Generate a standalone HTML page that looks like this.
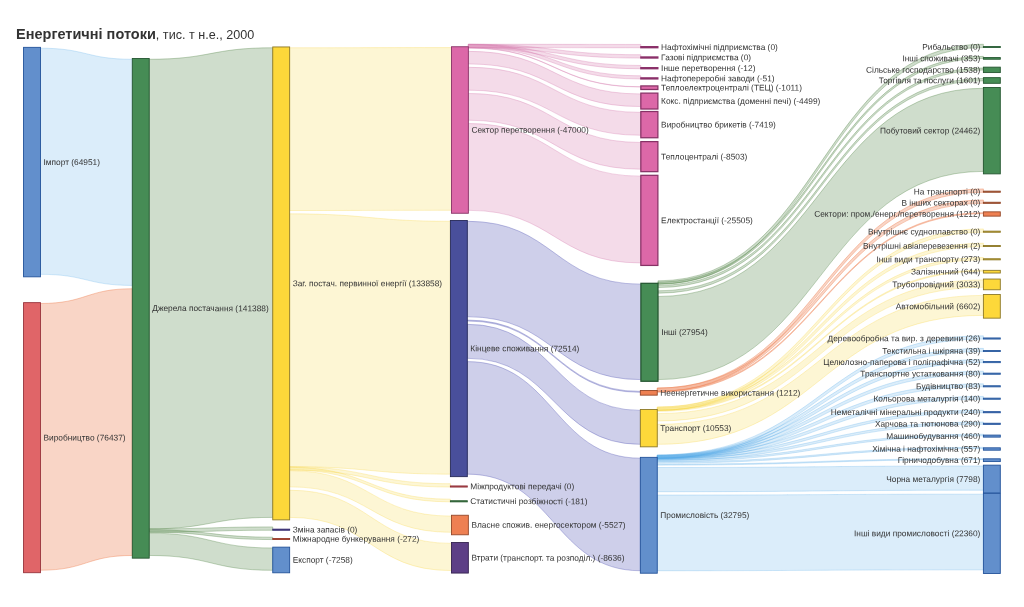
<!DOCTYPE html>
<html><head><meta charset="utf-8"><title>Sankey</title>
<style>html,body{margin:0;padding:0;background:#fff}#w{width:1024px;height:607px;transform:translateZ(0);overflow:hidden}svg{display:block;font-family:"Liberation Sans",sans-serif;will-change:transform}</style></head>
<body>
<div id="w"><svg width="1024" height="607" viewBox="0 0 1024 607">
<rect width="1024" height="607" fill="#fff"/>
<text x="16" y="38.8" transform="rotate(0.02 16 38.8)" fill="#333" font-size="14.52" font-weight="bold">Енергетичні потоки<tspan font-weight="normal" font-size="12.6">, тис. т н.е., 2000</tspan></text>
<g stroke-width="0.83">
<path d="M40.45,48.18C86.38,48.18 86.38,59.28 132.3,59.28L132.3,285.43C86.38,285.43 86.38,274.33 40.45,274.33Z" fill="#4da6e8" stroke="#4da6e8" fill-opacity="0.2" stroke-opacity="0.3"/>
<path d="M40.45,303.48C86.38,303.48 86.38,288.75 132.3,288.75L132.3,555.48C86.38,555.48 86.38,570.21 40.45,570.21Z" fill="#ee8052" stroke="#ee8052" fill-opacity="0.33" stroke-opacity="0.495"/>
<path d="M149.2,59.28C210.97,59.28 210.97,47.78 272.75,47.78L272.75,517.38C210.97,517.38 210.97,528.88 149.2,528.88Z" fill="#4d8142" stroke="#4d8142" fill-opacity="0.27" stroke-opacity="0.405"/>
<path d="M149.2,532.2C210.97,532.2 210.97,530.25 272.75,530.25L272.75,526.93C210.97,526.93 210.97,528.88 149.2,528.88Z" fill="#4d8142" stroke="#4d8142" fill-opacity="0.27" stroke-opacity="0.405"/>
<path d="M149.2,532.2C210.97,532.2 210.97,539.55 272.75,539.55L272.75,537.19C210.97,537.19 210.97,529.84 149.2,529.84Z" fill="#4d8142" stroke="#4d8142" fill-opacity="0.27" stroke-opacity="0.405"/>
<path d="M149.2,533.16C210.97,533.16 210.97,547.98 272.75,547.98L272.75,570.3C210.97,570.3 210.97,555.48 149.2,555.48Z" fill="#4d8142" stroke="#4d8142" fill-opacity="0.27" stroke-opacity="0.405"/>
<path d="M289.65,47.78C370.55,47.78 370.55,47.58 451.45,47.58L451.45,210.31C370.55,210.31 370.55,210.51 289.65,210.51Z" fill="#f6d43a" stroke="#f6d43a" fill-opacity="0.22" stroke-opacity="0.33"/>
<path d="M289.65,213.83C370.02,213.83 370.02,221.28 450.4,221.28L450.4,474.15C370.02,474.15 370.02,466.7 289.65,466.7Z" fill="#f6d43a" stroke="#f6d43a" fill-opacity="0.22" stroke-opacity="0.33"/>
<path d="M289.65,470.02C370.02,470.02 370.02,487.05 450.4,487.05L450.4,483.73C370.02,483.73 370.02,466.7 289.65,466.7Z" fill="#f6d43a" stroke="#f6d43a" fill-opacity="0.22" stroke-opacity="0.33"/>
<path d="M289.65,470.02C370.02,470.02 370.02,501.85 450.4,501.85L450.4,499.17C370.02,499.17 370.02,467.34 289.65,467.34Z" fill="#f6d43a" stroke="#f6d43a" fill-opacity="0.22" stroke-opacity="0.33"/>
<path d="M289.65,470.66C370.55,470.66 370.55,516.08 451.45,516.08L451.45,532.29C370.55,532.29 370.55,486.87 289.65,486.87Z" fill="#f6d43a" stroke="#f6d43a" fill-opacity="0.22" stroke-opacity="0.33"/>
<path d="M289.65,490.19C370.55,490.19 370.55,543.38 451.45,543.38L451.45,570.57C370.55,570.57 370.55,517.38 289.65,517.38Z" fill="#f6d43a" stroke="#f6d43a" fill-opacity="0.22" stroke-opacity="0.33"/>
<path d="M468.35,47.58C554.59,47.58 554.59,47.75 640.83,47.75L640.83,44.43C554.59,44.43 554.59,44.26 468.35,44.26Z" fill="#d67aae" stroke="#d67aae" fill-opacity="0.27" stroke-opacity="0.405"/>
<path d="M468.35,47.58C554.59,47.58 554.59,58.05 640.83,58.05L640.83,54.73C554.59,54.73 554.59,44.26 468.35,44.26Z" fill="#d67aae" stroke="#d67aae" fill-opacity="0.27" stroke-opacity="0.405"/>
<path d="M468.35,47.58C554.59,47.58 554.59,68.75 640.83,68.75L640.83,65.47C554.59,65.47 554.59,44.3 468.35,44.3Z" fill="#d67aae" stroke="#d67aae" fill-opacity="0.27" stroke-opacity="0.405"/>
<path d="M468.35,47.62C554.59,47.62 554.59,78.95 640.83,78.95L640.83,75.81C554.59,75.81 554.59,44.48 468.35,44.48Z" fill="#d67aae" stroke="#d67aae" fill-opacity="0.27" stroke-opacity="0.405"/>
<path d="M468.35,47.8C554.59,47.8 554.59,86.75 640.83,86.75L640.83,87.01C554.59,87.01 554.59,48.05 468.35,48.05Z" fill="#d67aae" stroke="#d67aae" fill-opacity="0.27" stroke-opacity="0.405"/>
<path d="M468.35,51.37C554.59,51.37 554.59,93.95 640.83,93.95L640.83,106.53C554.59,106.53 554.59,63.95 468.35,63.95Z" fill="#d67aae" stroke="#d67aae" fill-opacity="0.27" stroke-opacity="0.405"/>
<path d="M468.35,67.27C554.59,67.27 554.59,112.36 640.83,112.36L640.83,135.25C554.59,135.25 554.59,90.16 468.35,90.16Z" fill="#d67aae" stroke="#d67aae" fill-opacity="0.27" stroke-opacity="0.405"/>
<path d="M468.35,93.48C554.59,93.48 554.59,142.46 640.83,142.46L640.83,169.18C554.59,169.18 554.59,120.2 468.35,120.2Z" fill="#d67aae" stroke="#d67aae" fill-opacity="0.27" stroke-opacity="0.405"/>
<path d="M468.35,123.52C554.59,123.52 554.59,176.16 640.83,176.16L640.83,262.94C554.59,262.94 554.59,210.31 468.35,210.31Z" fill="#d67aae" stroke="#d67aae" fill-opacity="0.27" stroke-opacity="0.405"/>
<path d="M467.3,221.28C554.11,221.28 554.11,284.15 640.92,284.15L640.92,379.6C554.11,379.6 554.11,316.72 467.3,316.72Z" fill="#4a4db1" stroke="#4a4db1" fill-opacity="0.27" stroke-opacity="0.405"/>
<path d="M467.3,320.04C553.83,320.04 553.83,391.38 640.35,391.38L640.35,392.34C553.83,392.34 553.83,321 467.3,321Z" fill="#4a4db1" stroke="#4a4db1" fill-opacity="0.27" stroke-opacity="0.405"/>
<path d="M467.3,324.32C553.83,324.32 553.83,410.38 640.35,410.38L640.35,444.34C553.83,444.34 553.83,358.29 467.3,358.29Z" fill="#4a4db1" stroke="#4a4db1" fill-opacity="0.27" stroke-opacity="0.405"/>
<path d="M467.3,361.61C553.83,361.61 553.83,458.18 640.35,458.18L640.35,570.72C553.83,570.72 553.83,474.15 467.3,474.15Z" fill="#4a4db1" stroke="#4a4db1" fill-opacity="0.27" stroke-opacity="0.405"/>
<path d="M657.97,284.15C820.69,284.15 820.69,47.55 983.4,47.55L983.4,44.23C820.69,44.23 820.69,280.83 657.97,280.83Z" fill="#4d8142" stroke="#4d8142" fill-opacity="0.27" stroke-opacity="0.405"/>
<path d="M657.97,284.15C820.69,284.15 820.69,58.41 983.4,58.41L983.4,56.33C820.69,56.33 820.69,282.08 657.97,282.08Z" fill="#4d8142" stroke="#4d8142" fill-opacity="0.27" stroke-opacity="0.405"/>
<path d="M657.97,285.4C820.69,285.4 820.69,67.98 983.4,67.98L983.4,70.09C820.69,70.09 820.69,287.52 657.97,287.52Z" fill="#4d8142" stroke="#4d8142" fill-opacity="0.27" stroke-opacity="0.405"/>
<path d="M657.97,290.84C820.69,290.84 820.69,78.48 983.4,78.48L983.4,80.82C820.69,80.82 820.69,293.17 657.97,293.17Z" fill="#4d8142" stroke="#4d8142" fill-opacity="0.27" stroke-opacity="0.405"/>
<path d="M657.97,296.49C820.69,296.49 820.69,88.28 983.4,88.28L983.4,171.38C820.69,171.38 820.69,379.6 657.97,379.6Z" fill="#4d8142" stroke="#4d8142" fill-opacity="0.27" stroke-opacity="0.405"/>
<path d="M657.25,391.38C820.33,391.38 820.33,192.25 983.4,192.25L983.4,188.93C820.33,188.93 820.33,388.06 657.25,388.06Z" fill="#ee8052" stroke="#ee8052" fill-opacity="0.33" stroke-opacity="0.495"/>
<path d="M657.25,391.38C820.33,391.38 820.33,203.35 983.4,203.35L983.4,200.03C820.33,200.03 820.33,388.06 657.25,388.06Z" fill="#ee8052" stroke="#ee8052" fill-opacity="0.33" stroke-opacity="0.495"/>
<path d="M657.25,391.38C820.33,391.38 820.33,212.68 983.4,212.68L983.4,213.64C820.33,213.64 820.33,392.34 657.25,392.34Z" fill="#ee8052" stroke="#ee8052" fill-opacity="0.33" stroke-opacity="0.495"/>
<path d="M657.25,410.38C820.33,410.38 820.33,232.25 983.4,232.25L983.4,228.93C820.33,228.93 820.33,407.06 657.25,407.06Z" fill="#f6d43a" stroke="#f6d43a" fill-opacity="0.22" stroke-opacity="0.33"/>
<path d="M657.25,410.38C820.33,410.38 820.33,246.55 983.4,246.55L983.4,243.24C820.33,243.24 820.33,407.07 657.25,407.07Z" fill="#f6d43a" stroke="#f6d43a" fill-opacity="0.22" stroke-opacity="0.33"/>
<path d="M657.25,410.39C820.33,410.39 820.33,259.85 983.4,259.85L983.4,257.49C820.33,257.49 820.33,408.03 657.25,408.03Z" fill="#f6d43a" stroke="#f6d43a" fill-opacity="0.22" stroke-opacity="0.33"/>
<path d="M657.25,411.35C820.33,411.35 820.33,271.18 983.4,271.18L983.4,270.14C820.33,270.14 820.33,410.31 657.25,410.31Z" fill="#f6d43a" stroke="#f6d43a" fill-opacity="0.22" stroke-opacity="0.33"/>
<path d="M657.25,413.63C820.33,413.63 820.33,279.88 983.4,279.88L983.4,287.28C820.33,287.28 820.33,421.02 657.25,421.02Z" fill="#f6d43a" stroke="#f6d43a" fill-opacity="0.22" stroke-opacity="0.33"/>
<path d="M657.25,424.34C820.33,424.34 820.33,295.38 983.4,295.38L983.4,315.38C820.33,315.38 820.33,444.35 657.25,444.35Z" fill="#f6d43a" stroke="#f6d43a" fill-opacity="0.22" stroke-opacity="0.33"/>
<path d="M657.25,458.18C820.33,458.18 820.33,339.05 983.4,339.05L983.4,335.82C820.33,335.82 820.33,454.95 657.25,454.95Z" fill="#4da6e8" stroke="#4da6e8" fill-opacity="0.2" stroke-opacity="0.3"/>
<path d="M657.25,458.27C820.33,458.27 820.33,351.55 983.4,351.55L983.4,348.37C820.33,348.37 820.33,455.09 657.25,455.09Z" fill="#4da6e8" stroke="#4da6e8" fill-opacity="0.2" stroke-opacity="0.3"/>
<path d="M657.25,458.41C820.33,458.41 820.33,362.65 983.4,362.65L983.4,359.51C820.33,359.51 820.33,455.27 657.25,455.27Z" fill="#4da6e8" stroke="#4da6e8" fill-opacity="0.2" stroke-opacity="0.3"/>
<path d="M657.25,458.59C820.33,458.59 820.33,374.25 983.4,374.25L983.4,371.21C820.33,371.21 820.33,455.56 657.25,455.56Z" fill="#4da6e8" stroke="#4da6e8" fill-opacity="0.2" stroke-opacity="0.3"/>
<path d="M657.25,458.88C820.33,458.88 820.33,386.85 983.4,386.85L983.4,383.82C820.33,383.82 820.33,455.85 657.25,455.85Z" fill="#4da6e8" stroke="#4da6e8" fill-opacity="0.2" stroke-opacity="0.3"/>
<path d="M657.25,459.17C820.33,459.17 820.33,399.25 983.4,399.25L983.4,396.42C820.33,396.42 820.33,456.34 657.25,456.34Z" fill="#4da6e8" stroke="#4da6e8" fill-opacity="0.2" stroke-opacity="0.3"/>
<path d="M657.25,459.66C820.33,459.66 820.33,412.75 983.4,412.75L983.4,410.28C820.33,410.28 820.33,457.19 657.25,457.19Z" fill="#4da6e8" stroke="#4da6e8" fill-opacity="0.2" stroke-opacity="0.3"/>
<path d="M657.25,460.51C820.33,460.51 820.33,424.35 983.4,424.35L983.4,422.05C820.33,422.05 820.33,458.22 657.25,458.22Z" fill="#4da6e8" stroke="#4da6e8" fill-opacity="0.2" stroke-opacity="0.3"/>
<path d="M657.25,461.54C820.33,461.54 820.33,435.92 983.4,435.92L983.4,434.22C820.33,434.22 820.33,459.84 657.25,459.84Z" fill="#4da6e8" stroke="#4da6e8" fill-opacity="0.2" stroke-opacity="0.3"/>
<path d="M657.25,463.16C820.33,463.16 820.33,448.65 983.4,448.65L983.4,447.29C820.33,447.29 820.33,461.81 657.25,461.81Z" fill="#4da6e8" stroke="#4da6e8" fill-opacity="0.2" stroke-opacity="0.3"/>
<path d="M657.25,465.13C820.33,465.13 820.33,459.64 983.4,459.64L983.4,458.7C820.33,458.7 820.33,464.18 657.25,464.18Z" fill="#4da6e8" stroke="#4da6e8" fill-opacity="0.2" stroke-opacity="0.3"/>
<path d="M657.25,467.5C820.33,467.5 820.33,465.98 983.4,465.98L983.4,490.21C820.33,490.21 820.33,491.73 657.25,491.73Z" fill="#4da6e8" stroke="#4da6e8" fill-opacity="0.2" stroke-opacity="0.3"/>
<path d="M657.25,495.05C820.33,495.05 820.33,494.18 983.4,494.18L983.4,569.86C820.33,569.86 820.33,570.73 657.25,570.73Z" fill="#4da6e8" stroke="#4da6e8" fill-opacity="0.2" stroke-opacity="0.3"/>
</g>
<g stroke-width="0.9">
<rect x="23.55" y="47.35" width="16.9" height="229.47" fill="#628fcc" stroke="#23539a"/>
<rect x="23.55" y="302.65" width="16.9" height="270.05" fill="#e06568" stroke="#98343c"/>
<rect x="132.3" y="58.45" width="16.9" height="499.7" fill="#468c55" stroke="#255631"/>
<rect x="272.75" y="46.95" width="16.9" height="472.92" fill="#fdd83a" stroke="#8c7828"/>
<rect x="272.75" y="529.15" width="16.9" height="1.1" fill="#494f9b" stroke="#382c6e"/>
<rect x="272.75" y="538.45" width="16.9" height="1.1" fill="#e06568" stroke="#963a26"/>
<rect x="272.75" y="547.15" width="16.9" height="25.64" fill="#628fcc" stroke="#23539a"/>
<rect x="451.45" y="46.75" width="16.9" height="166.5" fill="#dc68a8" stroke="#873266"/>
<rect x="450.4" y="220.45" width="16.9" height="256.19" fill="#494f9b" stroke="#262a58"/>
<rect x="450.4" y="485.95" width="16.9" height="1.1" fill="#e06568" stroke="#8c3038"/>
<rect x="450.4" y="500.75" width="16.9" height="1.1" fill="#468c55" stroke="#2a5a30"/>
<rect x="451.45" y="515.25" width="16.9" height="19.53" fill="#ee8052" stroke="#94482a"/>
<rect x="451.45" y="542.55" width="16.9" height="30.51" fill="#5d3f86" stroke="#35234f"/>
<rect x="640.83" y="46.65" width="17.05" height="1.1" fill="#dc68a8" stroke="#8a3069" stroke-width="1.25"/>
<rect x="640.83" y="56.95" width="17.05" height="1.1" fill="#dc68a8" stroke="#8a3069" stroke-width="1.25"/>
<rect x="640.83" y="67.65" width="17.05" height="1.1" fill="#dc68a8" stroke="#8a3069" stroke-width="1.25"/>
<rect x="640.83" y="77.85" width="17.05" height="1.1" fill="#dc68a8" stroke="#8a3069" stroke-width="1.25"/>
<rect x="640.83" y="85.92" width="17.05" height="3.57" fill="#dc68a8" stroke="#873266" stroke-width="1.25"/>
<rect x="640.83" y="93.12" width="17.05" height="15.89" fill="#dc68a8" stroke="#873266" stroke-width="1.25"/>
<rect x="640.83" y="111.53" width="17.05" height="26.21" fill="#dc68a8" stroke="#873266" stroke-width="1.25"/>
<rect x="640.83" y="141.62" width="17.05" height="30.04" fill="#dc68a8" stroke="#873266" stroke-width="1.25"/>
<rect x="640.83" y="175.32" width="17.05" height="90.11" fill="#dc68a8" stroke="#873266" stroke-width="1.25"/>
<rect x="640.92" y="283.32" width="17.05" height="97.95" fill="#468c55" stroke="#255631" stroke-width="1.25"/>
<rect x="640.35" y="390.55" width="16.9" height="4.6" fill="#ee8052" stroke="#94482a"/>
<rect x="640.35" y="409.55" width="16.9" height="37.28" fill="#fdd83a" stroke="#8c7828"/>
<rect x="640.35" y="457.35" width="16.9" height="115.86" fill="#628fcc" stroke="#23539a"/>
<rect x="983.4" y="46.45" width="16.9" height="1.1" fill="#468c55" stroke="#2b5e37"/>
<rect x="983.4" y="57.58" width="16.9" height="1.65" fill="#468c55" stroke="#255631"/>
<rect x="983.4" y="67.15" width="16.9" height="5.43" fill="#468c55" stroke="#255631"/>
<rect x="983.4" y="77.65" width="16.9" height="5.66" fill="#468c55" stroke="#255631"/>
<rect x="983.4" y="87.45" width="16.9" height="86.42" fill="#468c55" stroke="#255631"/>
<rect x="983.4" y="191.15" width="16.9" height="1.1" fill="#ee8052" stroke="#8c4528"/>
<rect x="983.4" y="202.25" width="16.9" height="1.1" fill="#ee8052" stroke="#8c4528"/>
<rect x="983.4" y="211.85" width="16.9" height="4.28" fill="#ee8052" stroke="#94482a"/>
<rect x="983.4" y="231.15" width="16.9" height="1.1" fill="#fdd83a" stroke="#8a7628"/>
<rect x="983.4" y="245.45" width="16.9" height="1.1" fill="#fdd83a" stroke="#8a7628"/>
<rect x="983.4" y="258.75" width="16.9" height="1.1" fill="#fdd83a" stroke="#8c7828"/>
<rect x="983.4" y="270.35" width="16.9" height="2.68" fill="#fdd83a" stroke="#8c7828"/>
<rect x="983.4" y="279.05" width="16.9" height="10.72" fill="#fdd83a" stroke="#8c7828"/>
<rect x="983.4" y="294.55" width="16.9" height="23.6" fill="#fdd83a" stroke="#8c7828"/>
<rect x="983.4" y="337.95" width="16.9" height="1.1" fill="#628fcc" stroke="#2a5a9e"/>
<rect x="983.4" y="350.45" width="16.9" height="1.1" fill="#628fcc" stroke="#2a5a9e"/>
<rect x="983.4" y="361.55" width="16.9" height="1.1" fill="#628fcc" stroke="#2a5a9e"/>
<rect x="983.4" y="373.15" width="16.9" height="1.1" fill="#628fcc" stroke="#2a5a9e"/>
<rect x="983.4" y="385.75" width="16.9" height="1.1" fill="#628fcc" stroke="#2a5a9e"/>
<rect x="983.4" y="398.15" width="16.9" height="1.1" fill="#628fcc" stroke="#2a5a9e"/>
<rect x="983.4" y="411.65" width="16.9" height="1.1" fill="#628fcc" stroke="#23539a"/>
<rect x="983.4" y="423.25" width="16.9" height="1.1" fill="#628fcc" stroke="#23539a"/>
<rect x="983.4" y="435.09" width="16.9" height="2.03" fill="#628fcc" stroke="#23539a"/>
<rect x="983.4" y="447.82" width="16.9" height="2.37" fill="#628fcc" stroke="#23539a"/>
<rect x="983.4" y="458.81" width="16.9" height="2.77" fill="#628fcc" stroke="#23539a"/>
<rect x="983.4" y="465.15" width="16.9" height="27.9" fill="#628fcc" stroke="#23539a"/>
<rect x="983.4" y="493.35" width="16.9" height="80.1" fill="#628fcc" stroke="#23539a"/>
</g>
<g fill="#333" font-size="8.34">
<text x="43.5" y="164.89" transform="rotate(0.03 43.5 164.89)">Імпорт (64951)</text>
<text x="43.5" y="440.48" transform="rotate(0.03 43.5 440.48)">Виробництво (76437)</text>
<text x="152.25" y="311.1" transform="rotate(0.03 152.25 311.1)">Джерела постачання (141388)</text>
<text x="292.7" y="286.21" transform="rotate(0.03 292.7 286.21)">Заг. постач. первинної енергії (133858)</text>
<text x="292.7" y="532.5" transform="rotate(0.03 292.7 532.5)">Зміна запасів (0)</text>
<text x="292.7" y="541.8" transform="rotate(0.03 292.7 541.8)">Міжнародне бункерування (-272)</text>
<text x="292.7" y="562.77" transform="rotate(0.03 292.7 562.77)">Експорт (-7258)</text>
<text x="471.4" y="132.8" transform="rotate(0.03 471.4 132.8)">Сектор перетворення (-47000)</text>
<text x="470.35" y="351.35" transform="rotate(0.03 470.35 351.35)">Кінцеве споживання (72514)</text>
<text x="470.35" y="489.3" transform="rotate(0.03 470.35 489.3)">Міжпродуктові передачі (0)</text>
<text x="470.35" y="504.1" transform="rotate(0.03 470.35 504.1)">Статистичні розбіжності (-181)</text>
<text x="471.4" y="527.81" transform="rotate(0.03 471.4 527.81)">Власне спожив. енергосектором (-5527)</text>
<text x="471.4" y="560.61" transform="rotate(0.03 471.4 560.61)">Втрати (транспорт. та розподіл.) (-8636)</text>
<text x="661.1" y="50" transform="rotate(0.03 661.1 50)">Нафтохімічні підприємства (0)</text>
<text x="661.1" y="60.3" transform="rotate(0.03 661.1 60.3)">Газові підприємства (0)</text>
<text x="661.1" y="71" transform="rotate(0.03 661.1 71)">Інше перетворення (-12)</text>
<text x="661.1" y="81.2" transform="rotate(0.03 661.1 81.2)">Нафтопереробні заводи (-51)</text>
<text x="661.1" y="90.51" transform="rotate(0.03 661.1 90.51)">Теплоелектроцентралі (ТЕЦ) (-1011)</text>
<text x="661.1" y="103.87" transform="rotate(0.03 661.1 103.87)">Кокс. підприємства (доменні печі) (-4499)</text>
<text x="661.1" y="127.43" transform="rotate(0.03 661.1 127.43)">Виробництво брикетів (-7419)</text>
<text x="661.1" y="159.45" transform="rotate(0.03 661.1 159.45)">Теплоцентралі (-8503)</text>
<text x="661.1" y="223.18" transform="rotate(0.03 661.1 223.18)">Електростанції (-25505)</text>
<text x="661.2" y="335.1" transform="rotate(0.03 661.2 335.1)">Інші (27954)</text>
<text x="660.3" y="395.65" transform="rotate(0.03 660.3 395.65)">Неенергетичне використання (1212)</text>
<text x="660.3" y="430.99" transform="rotate(0.03 660.3 430.99)">Транспорт (10553)</text>
<text x="660.3" y="518.08" transform="rotate(0.03 660.3 518.08)">Промисловість (32795)</text>
<text x="980.35" y="49.8" text-anchor="end" transform="rotate(-0.03 980.35 49.8)">Рибальство (0)</text>
<text x="980.35" y="61.2" text-anchor="end" transform="rotate(-0.03 980.35 61.2)">Інші споживачі (353)</text>
<text x="980.35" y="72.67" text-anchor="end" transform="rotate(-0.03 980.35 72.67)">Сільське господарство (1538)</text>
<text x="980.35" y="83.28" text-anchor="end" transform="rotate(-0.03 980.35 83.28)">Торгівля та послуги (1601)</text>
<text x="980.35" y="133.46" text-anchor="end" transform="rotate(-0.03 980.35 133.46)">Побутовий сектор (24462)</text>
<text x="980.35" y="194.5" text-anchor="end" transform="rotate(-0.03 980.35 194.5)">На транспорті (0)</text>
<text x="980.35" y="205.6" text-anchor="end" transform="rotate(-0.03 980.35 205.6)">В інших секторах (0)</text>
<text x="980.35" y="216.79" text-anchor="end" transform="rotate(-0.03 980.35 216.79)">Сектори: пром./енерг./перетворення (1212)</text>
<text x="980.35" y="234.5" text-anchor="end" transform="rotate(-0.03 980.35 234.5)">Внутрішнє судноплавство (0)</text>
<text x="980.35" y="248.8" text-anchor="end" transform="rotate(-0.03 980.35 248.8)">Внутрішні авіаперевезення (2)</text>
<text x="980.35" y="262.1" text-anchor="end" transform="rotate(-0.03 980.35 262.1)">Інші види транспорту (273)</text>
<text x="980.35" y="274.49" text-anchor="end" transform="rotate(-0.03 980.35 274.49)">Залізничний (644)</text>
<text x="980.35" y="287.21" text-anchor="end" transform="rotate(-0.03 980.35 287.21)">Трубопровідний (3033)</text>
<text x="980.35" y="309.15" text-anchor="end" transform="rotate(-0.03 980.35 309.15)">Автомобільний (6602)</text>
<text x="980.35" y="341.3" text-anchor="end" transform="rotate(-0.03 980.35 341.3)">Деревообробна та вир. з деревини (26)</text>
<text x="980.35" y="353.8" text-anchor="end" transform="rotate(-0.03 980.35 353.8)">Текстильна і шкіряна (39)</text>
<text x="980.35" y="364.9" text-anchor="end" transform="rotate(-0.03 980.35 364.9)">Целюлозно-паперова і поліграфічна (52)</text>
<text x="980.35" y="376.5" text-anchor="end" transform="rotate(-0.03 980.35 376.5)">Транспортне устатковання (80)</text>
<text x="980.35" y="389.1" text-anchor="end" transform="rotate(-0.03 980.35 389.1)">Будівництво (83)</text>
<text x="980.35" y="401.5" text-anchor="end" transform="rotate(-0.03 980.35 401.5)">Кольорова металургія (140)</text>
<text x="980.35" y="415" text-anchor="end" transform="rotate(-0.03 980.35 415)">Неметалічні мінеральні продукти (240)</text>
<text x="980.35" y="426.6" text-anchor="end" transform="rotate(-0.03 980.35 426.6)">Харчова та тютюнова (290)</text>
<text x="980.35" y="438.9" text-anchor="end" transform="rotate(-0.03 980.35 438.9)">Машинобудування (460)</text>
<text x="980.35" y="451.8" text-anchor="end" transform="rotate(-0.03 980.35 451.8)">Хімічна і нафтохімічна (557)</text>
<text x="980.35" y="463" text-anchor="end" transform="rotate(-0.03 980.35 463)">Гірничодобувна (671)</text>
<text x="980.35" y="481.9" text-anchor="end" transform="rotate(-0.03 980.35 481.9)">Чорна металургія (7798)</text>
<text x="980.35" y="536.2" text-anchor="end" transform="rotate(-0.03 980.35 536.2)">Інші види промисловості (22360)</text>
</g>
</svg></div>
</body></html>
